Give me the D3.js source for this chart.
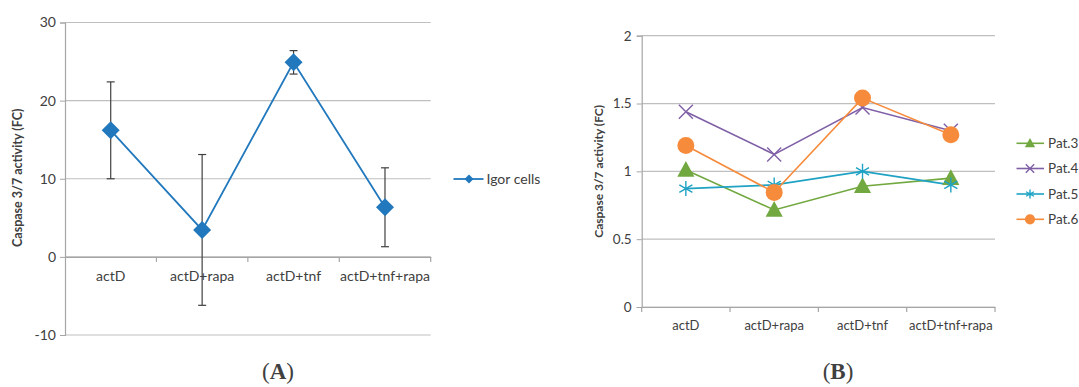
<!DOCTYPE html>
<html><head><meta charset="utf-8">
<script src="https://cdn.jsdelivr.net/npm/d3@7/dist/d3.min.js"></script>
<style>
html,body{margin:0;padding:0;background:#fff;}
svg{display:block;}
text{font-family:Lato,"Open Sans",sans-serif;fill:#404040;}
</style></head>
<body>
<svg id="c" width="1079" height="387"></svg>
<script>
// ---- data ----
const categories = ["actD","actD+rapa","actD+tnf","actD+tnf+rapa"];
// Panel A
const igorMeans = [16.2, 3.45, 24.9, 6.35];
const igorErrors = [6.2, 9.65, 1.5, 5.05];
const ticksA = [-10, 0, 10, 20, 30];
const tickLabelsA = ["-10","0","10","20","30"];
// Panel B
const pat3 = [1.01, 0.715, 0.89, 0.95];
const pat4 = [1.44, 1.125, 1.47, 1.30];
const pat5 = [0.873, 0.9, 1.0, 0.9];
const pat6 = [1.19, 0.845, 1.54, 1.27];
const seriesNamesB = ["Pat.3","Pat.4","Pat.5","Pat.6"];
const ticksB = [0, 0.5, 1, 1.5, 2];
const tickLabelsB = ["0","0.5","1","1.5","2"];
const yTitle = "Caspase 3/7 activity (FC)";

const svg = d3.select("#c");
const gridCol = "#bfbfbf", axisCol = "#a6a6a6";

// ================= Panel A =================
(function(){
  const x0 = 65, x1 = 430.7;
  const x = d3.scaleBand().domain(categories).range([x0, x1]);
  const y = d3.scaleLinear().domain([-10, 30]).range([335, 22.5]);
  const g = svg.append("g");
  g.selectAll("line.grid").data(ticksA).join("line")
    .attr("x1", x0).attr("x2", x1).attr("y1", d=>y(d)).attr("y2", d=>y(d))
    .attr("stroke", gridCol).attr("stroke-width", 1.2);
  const ya = g.append("g").attr("transform", `translate(${x0},0)`)
    .call(d3.axisLeft(y).tickValues(ticksA).tickFormat((d,i)=>tickLabelsA[i]).tickSize(5).tickPadding(4));
  ya.select(".domain").attr("stroke", axisCol).attr("stroke-width",1.2);
  ya.selectAll(".tick line").attr("stroke", axisCol);
  ya.selectAll("text").style("font-size","14px").attr("fill","#404040").style("font-family","Lato");
  const xa = g.append("g").attr("transform", `translate(0,${y(0)})`)
    .call(d3.axisBottom(x).tickSize(0).tickPadding(14));
  xa.select(".domain").attr("stroke", axisCol).attr("stroke-width",1.2);
  xa.selectAll("text").style("font-size","14px").attr("fill","#404040").style("font-family","Lato");
  const bounds = categories.map(c=>x(c)).concat([x1]).slice(1);
  g.selectAll("line.bt").data(bounds).join("line")
    .attr("x1", d=>d).attr("x2", d=>d).attr("y1", y(0)).attr("y2", y(0)+5)
    .attr("stroke", axisCol).attr("stroke-width",1.2);
  g.append("text").attr("transform", `translate(22,${(y(30)+y(-10))/2 - 1}) rotate(-90)`)
    .attr("text-anchor","middle").style("font-size","12.5px").style("font-weight","bold")
    .attr("fill","#000").text(yTitle);
  const cx = c => x(c) + x.bandwidth()/2;
  const col = "#2178bd";
  g.append("path").datum(igorMeans)
    .attr("d", d3.line().x((d,i)=>cx(categories[i])).y(d=>y(d)))
    .attr("fill","none").attr("stroke", col).attr("stroke-width", 1.8);
  const eb = g.selectAll("g.eb").data(igorMeans).join("g");
  eb.append("line").attr("x1",(d,i)=>cx(categories[i])).attr("x2",(d,i)=>cx(categories[i]))
    .attr("y1",(d,i)=>y(d+igorErrors[i])).attr("y2",(d,i)=>y(d-igorErrors[i]))
    .attr("stroke","#404040").attr("stroke-width",1.2);
  [1,-1].forEach(s=>{
    eb.append("line").attr("x1",(d,i)=>cx(categories[i])-4).attr("x2",(d,i)=>cx(categories[i])+4)
      .attr("y1",(d,i)=>y(d+s*igorErrors[i])).attr("y2",(d,i)=>y(d+s*igorErrors[i]))
      .attr("stroke","#404040").attr("stroke-width",1.2);
  });
  g.selectAll("path.m").data(igorMeans).join("path")
    .attr("d", "M0,-9L9,0L0,9L-9,0Z")
    .attr("transform",(d,i)=>`translate(${cx(categories[i])},${y(d)})`)
    .attr("fill", col);
  const ly = 179;
  g.append("line").attr("x1",453.5).attr("x2",483.5).attr("y1",ly).attr("y2",ly).attr("stroke",col).attr("stroke-width",1.8);
  g.append("path").attr("d","M0,-4.5L4.5,0L0,4.5L-4.5,0Z").attr("transform",`translate(469,${ly})`).attr("fill",col);
  g.append("text").attr("x",486.5).attr("y",ly).attr("dy","0.35em").style("font-size","14px").text("Igor cells");
  svg.append("text").attr("x",278).attr("y",379).attr("text-anchor","middle")
    .style("font-family","'Liberation Serif','DejaVu Serif',serif").style("font-size","23px")
    .attr("fill","#000").html("(<tspan font-weight='bold'>A</tspan>)");
})();

// ================= Panel B =================
(function(){
  const x0 = 641.7, x1 = 995;
  const x = d3.scaleBand().domain(categories).range([x0, x1]);
  const y = d3.scaleLinear().domain([0, 2]).range([307, 35.7]);
  const g = svg.append("g");
  g.selectAll("line.grid").data(ticksB).join("line")
    .attr("x1", x0).attr("x2", x1).attr("y1", d=>y(d)).attr("y2", d=>y(d))
    .attr("stroke", gridCol).attr("stroke-width", 1.2);
  const ya = g.append("g").attr("transform", `translate(${x0},0)`)
    .call(d3.axisLeft(y).tickValues(ticksB).tickFormat((d,i)=>tickLabelsB[i]).tickSize(5).tickPadding(5));
  ya.select(".domain").attr("stroke", axisCol).attr("stroke-width",1.2);
  ya.selectAll(".tick line").attr("stroke", axisCol);
  ya.selectAll("text").style("font-size","13.5px").attr("fill","#404040").style("font-family","Lato");
  const xa = g.append("g").attr("transform", `translate(0,${y(0)})`)
    .call(d3.axisBottom(x).tickSize(0).tickPadding(14));
  xa.select(".domain").attr("stroke", axisCol).attr("stroke-width",1.2);
  xa.selectAll("text").style("font-size","13px").attr("fill","#404040").style("font-family","Lato");
  const bounds = [x0].concat(categories.map(c=>x(c)).slice(1)).concat([x1]);
  g.selectAll("line.bt").data(bounds).join("line")
    .attr("x1", d=>d).attr("x2", d=>d).attr("y1", y(0)).attr("y2", y(0)+5)
    .attr("stroke", axisCol).attr("stroke-width",1.2);
  g.append("text").attr("transform", `translate(603,${(y(2)+y(0))/2}) rotate(-90)`)
    .attr("text-anchor","middle").style("font-size","12px").style("font-weight","bold")
    .attr("fill","#000").text(yTitle);
  const cx = c => x(c) + x.bandwidth()/2;
  const data = [pat3, pat4, pat5, pat6];
  const cols = ["#72a840", "#7f5fa6", "#1fa2c4", "#f68b3c"];
  const tri = s => `M0,${-s}L${s*0.95},${s*0.75}L${-s*0.95},${s*0.75}Z`;
  function marker(sel, k, scale){
    const c = cols[k];
    if(k===0){ sel.append("path").attr("d", tri(9*scale)).attr("fill", c); }
    else if(k===1){ const s=7*scale; sel.append("path").attr("d",`M${-s},${-s}L${s},${s}M${-s},${s}L${s},${-s}`).attr("stroke",c).attr("stroke-width",1.4).attr("fill","none"); }
    else if(k===2){ const s=7.5*scale; sel.append("path").attr("d",`M0,${-s}L0,${s}M${-s*0.87},${-s*0.5}L${s*0.87},${s*0.5}M${-s*0.87},${s*0.5}L${s*0.87},${-s*0.5}`).attr("stroke",c).attr("stroke-width",1.4).attr("fill","none"); }
    else { sel.append("circle").attr("r", 8.5*scale).attr("fill", c); }
  }
  data.forEach((vals,k)=>{
    g.append("path").datum(vals)
      .attr("d", d3.line().x((d,i)=>cx(categories[i])).y(d=>y(d)))
      .attr("fill","none").attr("stroke", cols[k]).attr("stroke-width", 1.6);
  });
  data.forEach((vals,k)=>{
    vals.forEach((v,i)=>{
      const m = g.append("g").attr("transform",`translate(${cx(categories[i])},${y(v)})`);
      marker(m, k, 1);
    });
  });
  const lys = [143.3, 168.5, 194, 219.3];
  seriesNamesB.forEach((n,k)=>{
    const ly = lys[k];
    g.append("line").attr("x1",1016.5).attr("x2",1044).attr("y1",ly).attr("y2",ly).attr("stroke",cols[k]).attr("stroke-width",1.6);
    const m = g.append("g").attr("transform",`translate(1030,${ly})`);
    marker(m, k, 0.6);
    g.append("text").attr("x",1048).attr("y",ly).attr("dy","0.35em").style("font-size","13.5px").text(n);
  });
  svg.append("text").attr("x",838).attr("y",379).attr("text-anchor","middle")
    .style("font-family","'Liberation Serif','DejaVu Serif',serif").style("font-size","23px")
    .attr("fill","#000").html("(<tspan font-weight='bold'>B</tspan>)");
})();
</script>
</body></html>
